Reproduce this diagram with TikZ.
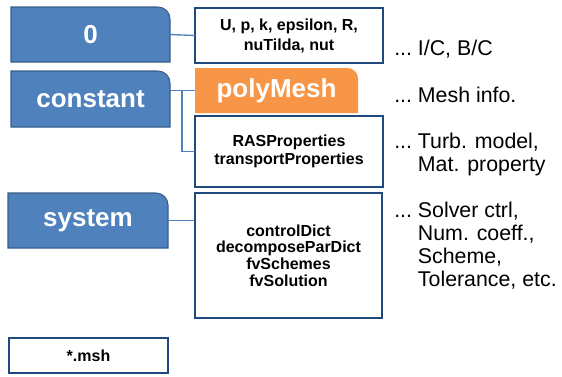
\documentclass[tikz,border=0pt]{standalone}
\usepackage{fontspec}
\setmainfont{Liberation Sans}
\usetikzlibrary{positioning,backgrounds}

\definecolor{tabblue}{RGB}{79,129,189}
\definecolor{tabedge}{RGB}{56,93,138}
\definecolor{tabgold}{RGB}{247,150,70}
\definecolor{boxedge}{RGB}{31,73,125}

\begin{document}
\begin{tikzpicture}[x=0.75pt,y=-0.75pt]
    \tikzstyle{tab}=[rectangle,inner sep=0pt,outer sep=0pt,text=white,font=\fontsize{19.5}{22}\selectfont\bfseries]
    \tikzstyle{filebox}=[rectangle,draw=boxedge,line width=1.1pt,fill=white,align=center,inner sep=0pt,outer sep=0pt,font=\fontsize{12}{12.5}\selectfont\bfseries]
    \tikzstyle{note}=[anchor=base west,inner sep=0pt,font=\fontsize{16}{17.25}\selectfont]
    \tikzstyle{link}=[draw=tabblue,line width=1pt]
    \useasboundingbox (0,0) rectangle (562,376);
    % folders
    \node[tab,minimum width=119.25pt,minimum height=41.25pt] (zero) at (90.5,34.5) {0};
    \node[tab,minimum width=119.25pt,minimum height=42pt] (constant) at (90.5,99) {constant};
    \node[tab,minimum width=120pt,minimum height=41.25pt] (system) at (88,220.5) {system};
    \node[filebox,minimum width=119.25pt,minimum height=26.25pt] (msh) at (88.5,355.5) {*.msh};
    % files
    \node[filebox,minimum width=141pt,minimum height=41.25pt,font=\fontsize{12}{15}\selectfont\bfseries] (fields) at (289,35.5) {U, p, k, epsilon, R,\\nuTilda, nut};
    \node[tab,minimum width=122.25pt,minimum height=33.75pt] (polymesh) at (276.5,90.5) {polyMesh};
    \node[filebox,minimum width=141pt,minimum height=53.25pt,font=\fontsize{12}{13.5}\selectfont\bfseries] (props) at (289,151.5) {RASProperties\\transportProperties};
    \node[filebox,minimum width=140.25pt,minimum height=93.75pt] (dicts) at (288.5,255.5) {controlDict\\decomposeParDict\\fvSchemes\\fvSolution};
    % comments
    \node[note] (icnote) at (394,55) {...\ I/C, B/C};
    \node[note] (meshnote) at (394,102) {...\ Mesh info.};
    \node[note] (turbnote) at (394,148) {...\ \begin{tabular}[t]{@{}l@{}}Turb. model,\\Mat. property\end{tabular}};
    \node[note] (solvernote) at (394,217) {...\ \begin{tabular}[t]{@{}l@{}}Solver ctrl,\\Num. coeff.,\\Scheme,\\Tolerance, etc.\end{tabular}};
    % tab shapes
    \begin{scope}[on background layer]
      \foreach \n in {zero,constant,system}
        \draw[fill=tabblue,draw=tabedge,line width=0.8pt] (\n.south west) -- (\n.north west) -- ([xshift=-9pt]\n.north east) arc[start angle=90,end angle=0,radius=9pt] -- (\n.south east) -- cycle;
      \fill[tabgold] (polymesh.south west) -- (polymesh.north west) -- ([xshift=-8pt]polymesh.north east) arc[start angle=90,end angle=0,radius=8pt] -- (polymesh.south east) -- cycle;
    \end{scope}
    % links
    \path (polymesh.west -| constant.east) coordinate (cjoin) ++(12,0) coordinate (split);
    \draw[link] (zero.east) -- (fields.west);
    \draw[link] (cjoin) -- (polymesh.west);
    \draw[link] (split) |- (props.west);
    \draw[link] (system.east) -- (system.east -| dicts.west);
  \end{tikzpicture}
\end{document}
